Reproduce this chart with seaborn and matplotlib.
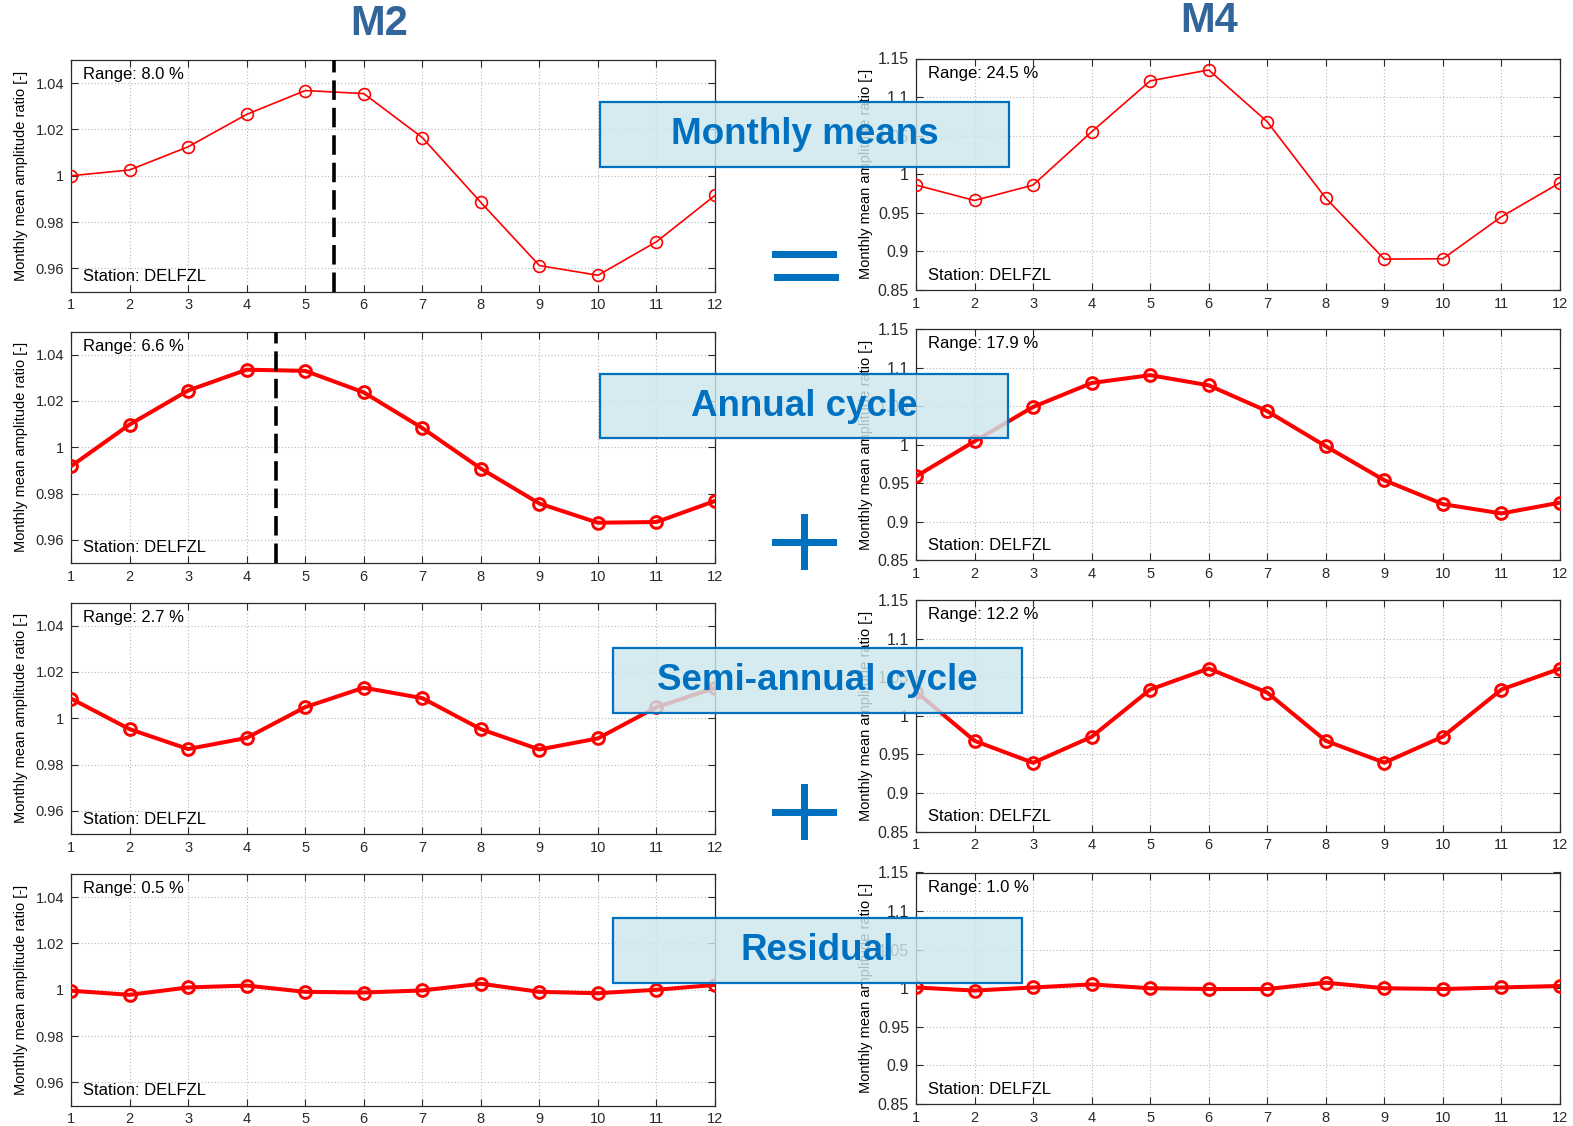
import matplotlib
matplotlib.use("Agg")
import matplotlib.pyplot as plt
from matplotlib.patches import Rectangle
import pandas as pd
import seaborn as sns

# ---------------------------------------------------------------- data
months = list(range(1, 13))

m2_monthly = [1.0000, 1.0025, 1.0125, 1.0265, 1.0368, 1.0355,
              1.0165, 0.9885, 0.9612, 0.9570, 0.9715, 0.9915]
m2_annual = [0.9918, 1.0098, 1.0245, 1.0335, 1.0330, 1.0237,
             1.0083, 0.9908, 0.9757, 0.9674, 0.9677, 0.9768]
m2_semi = [1.0085, 0.9953, 0.9867, 0.9915, 1.0048, 1.0132,
           1.0087, 0.9953, 0.9865, 0.9913, 1.0048, 1.0131]
m2_resid = [0.9996, 0.9978, 1.0010, 1.0018, 0.9991, 0.9988,
            0.9997, 1.0026, 0.9991, 0.9985, 1.0000, 1.0021]

m4_monthly = [0.9860, 0.9660, 0.9860, 1.0550, 1.1210, 1.1352,
              1.0680, 0.9690, 0.8900, 0.8905, 0.9450, 0.9890]
m4_annual = [0.9590, 1.0045, 1.0490, 1.0800, 1.0902, 1.0770,
             1.0435, 0.9980, 0.9540, 0.9230, 0.9110, 0.9250]
m4_semi = [1.0310, 0.9675, 0.9390, 0.9727, 1.0340, 1.0612,
           1.0300, 0.9675, 0.9392, 0.9730, 1.0340, 1.0610]
m4_resid = [1.0010, 0.9970, 1.0010, 1.0050, 1.0000, 0.9990,
            0.9990, 1.0072, 1.0000, 0.9990, 1.0010, 1.0030]

column_titles = ["M2", "M4"]
row_titles = ["Monthly means", "Annual cycle", "Semi-annual cycle", "Residual"]
station = "DELFZL"
# month of maximum M2 amplitude (monthly means / annual cycle)
m2_peak_monthly = 5.5
m2_peak_annual = 4.5

m2_yticks = [0.96, 0.98, 1.00, 1.02, 1.04]
m2_ylim = (0.95, 1.05)
m4_yticks = [0.85, 0.90, 0.95, 1.00, 1.05, 1.10, 1.15]
m4_ylim = (0.85, 1.15)

# ---------------------------------------------------------------- style
sns.set_style("ticks")
plt.rcParams["font.family"] = ["Liberation Sans", "DejaVu Sans"]
plt.rcParams.update({
    "xtick.direction": "in", "ytick.direction": "in",
    "xtick.top": True, "ytick.right": True,
    "axes.edgecolor": "#2a2a2a", "axes.linewidth": 0.9,
    "xtick.color": "#2a2a2a", "ytick.color": "#2a2a2a",
    "text.color": "black", "axes.labelcolor": "black",
})

W, H = 1573, 1126
fig = plt.figure(figsize=(W / 100, H / 100), dpi=100)


def rect(x0, y0, x1, y1):
    """Pixel box (top-left origin) -> figure fraction rectangle."""
    return [x0 / W, 1 - y1 / H, (x1 - x0) / W, (y1 - y0) / H]


left_x = (71, 715)
right_x = (916, 1560)
left_tops = [60, 331.5, 602.5, 874]
right_tops = [58.5, 329, 600, 872.5]
panel_h = 231.5

BLUE = "#0070c0"


def tick_fmt(v):
    s = f"{v:.2f}".rstrip("0").rstrip(".")
    return s


def draw_panel(ax, values, yticks, ylim, thick, ytick_size, peak=None):
    df = pd.DataFrame({"month": months, "ratio": values})
    if thick:
        lw, mew, ms = 2.9, 2.1, 8.5
    else:
        lw, mew, ms = 1.2, 1.2, 8.5
    sns.lineplot(data=df, x="month", y="ratio", ax=ax, color="red",
                 lw=lw, marker="o", markersize=ms, markerfacecolor="none",
                 markeredgecolor="red", markeredgewidth=mew, zorder=3)
    ax.set_xlim(1, 12)
    ax.set_ylim(*ylim)
    ax.set_xticks(months)
    ax.set_xticklabels([str(m) for m in months])
    ax.set_yticks(yticks)
    ax.set_yticklabels([tick_fmt(v) for v in yticks])
    ax.tick_params(axis="x", labelsize=10.5, length=5, width=0.8, pad=5)
    ax.tick_params(axis="y", labelsize=ytick_size, length=5, width=0.8, pad=5)
    ax.grid(True, ls=(0, (1, 2)), color="#b8b8b8", lw=0.8)
    ax.set_xlabel("")
    ax.set_ylabel("Monthly mean amplitude ratio [-]", fontsize=10.5)
    ax.yaxis.set_label_coords(-0.067, 0.5)
    if peak is not None:
        ax.axvline(peak, color="black", lw=2.6, dashes=(5.4, 2.2), zorder=4)
    rng = 100 * (max(values) - min(values))
    ax.annotate(f"Range: {rng:.1f} %", xy=(0, 1), xycoords="axes fraction",
                xytext=(12, -15), textcoords="offset pixels",
                ha="left", va="center", fontsize=12, zorder=5)
    ax.annotate(f"Station: {station}", xy=(0, 0), xycoords="axes fraction",
                xytext=(12, 15), textcoords="offset pixels",
                ha="left", va="center", fontsize=12, zorder=5)


m2_series = [m2_monthly, m2_annual, m2_semi, m2_resid]
m4_series = [m4_monthly, m4_annual, m4_semi, m4_resid]
m2_peaks = [m2_peak_monthly, m2_peak_annual, None, None]

for i in range(4):
    axl = fig.add_axes(rect(left_x[0], left_tops[i], left_x[1], left_tops[i] + panel_h))
    draw_panel(axl, m2_series[i], m2_yticks, m2_ylim, thick=(i > 0),
               ytick_size=10.5, peak=m2_peaks[i])
    axr = fig.add_axes(rect(right_x[0], right_tops[i], right_x[1], right_tops[i] + panel_h))
    draw_panel(axr, m4_series[i], m4_yticks, m4_ylim, thick=(i > 0),
               ytick_size=11.5)

# ---------------------------------------------------------------- column titles
fig.text(379 / W, 1 - 24 / H, column_titles[0], ha="center", va="center",
         fontsize=30, fontweight="bold", color="#32659a")
fig.text(1209 / W, 1 - 21 / H, column_titles[1], ha="center", va="center",
         fontsize=30, fontweight="bold", color="#32659a")

# ---------------------------------------------------------------- component boxes
boxes = [(600, 102, 1009, 167), (600, 374, 1008, 438),
         (613, 648, 1022, 713), (613, 918, 1022, 983)]
for (x0, y0, x1, y1), label in zip(boxes, row_titles):
    r = Rectangle((x0 / W, 1 - y1 / H), (x1 - x0) / W, (y1 - y0) / H,
                  transform=fig.transFigure, facecolor="#cde7ec", alpha=0.82,
                  edgecolor="none", zorder=10)
    fig.add_artist(r)
    fig.add_artist(Rectangle((x0 / W, 1 - y1 / H), (x1 - x0) / W, (y1 - y0) / H,
                             transform=fig.transFigure, facecolor="none",
                             edgecolor=BLUE, lw=1.6, zorder=11))
    fig.text((x0 + x1) / 2 / W, 1 - (y0 + y1) / 2 / H, label, ha="center",
             va="center", fontsize=26.5, fontweight="bold", color=BLUE, zorder=12)

# ---------------------------------------------------------------- "=" and "+" signs
def bar(x0, y0, x1, y1):
    fig.add_artist(Rectangle((x0 / W, 1 - y1 / H), (x1 - x0) / W, (y1 - y0) / H,
                             transform=fig.transFigure, facecolor=BLUE,
                             edgecolor="none", zorder=10))


# equals
bar(772, 250.5, 837, 258)
bar(773.5, 273.5, 839, 281)
# plus (annual + semi-annual)
for cy in (542.5, 812.5):
    bar(772, cy - 3.5, 837, cy + 3.5)
    bar(800.5, cy - 28.5, 808.5, cy + 27.5)

fig.savefig("out.png", dpi=100)
